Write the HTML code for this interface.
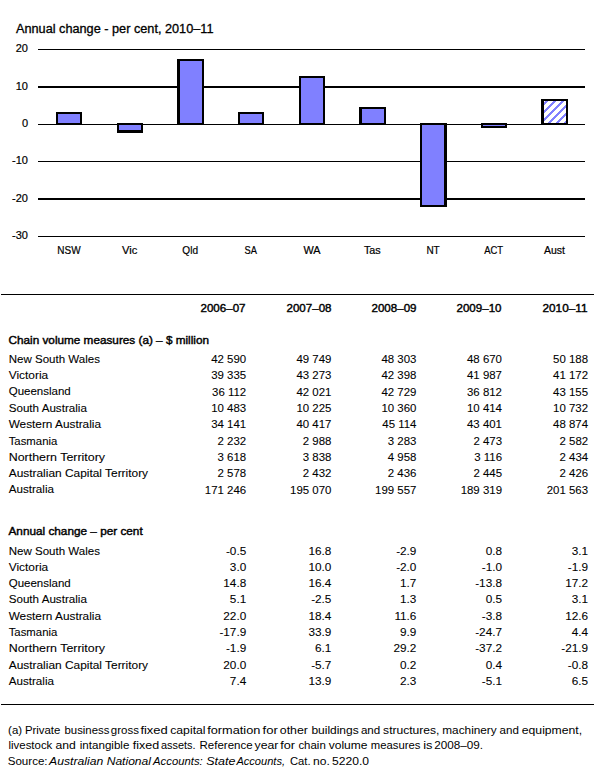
<!DOCTYPE html>
<html><head><meta charset="utf-8"><title>Annual change</title>
<style>html,body{margin:0;padding:0;background:#fff;width:595px;height:768px;overflow:hidden}
text{font-family:"Liberation Sans", sans-serif}</style></head>
<body>
<svg width="595" height="768" viewBox="0 0 595 768" style='display:block;font-family:"Liberation Sans", sans-serif'>
<defs>
<pattern id="hatch" patternUnits="userSpaceOnUse" x="0" y="0" width="8" height="8"><rect width="8" height="8" fill="#fff"/><rect x="0" y="0" width="1" height="1" fill="#8080ff"/><rect x="6" y="0" width="1" height="1" fill="#8080ff"/><rect x="7" y="0" width="1" height="1" fill="#8080ff"/><rect x="5" y="1" width="1" height="1" fill="#8080ff"/><rect x="6" y="1" width="1" height="1" fill="#8080ff"/><rect x="7" y="1" width="1" height="1" fill="#8080ff"/><rect x="4" y="2" width="1" height="1" fill="#8080ff"/><rect x="5" y="2" width="1" height="1" fill="#8080ff"/><rect x="6" y="2" width="1" height="1" fill="#8080ff"/><rect x="3" y="3" width="1" height="1" fill="#8080ff"/><rect x="4" y="3" width="1" height="1" fill="#8080ff"/><rect x="5" y="3" width="1" height="1" fill="#8080ff"/><rect x="2" y="4" width="1" height="1" fill="#8080ff"/><rect x="3" y="4" width="1" height="1" fill="#8080ff"/><rect x="4" y="4" width="1" height="1" fill="#8080ff"/><rect x="1" y="5" width="1" height="1" fill="#8080ff"/><rect x="2" y="5" width="1" height="1" fill="#8080ff"/><rect x="3" y="5" width="1" height="1" fill="#8080ff"/><rect x="0" y="6" width="1" height="1" fill="#8080ff"/><rect x="1" y="6" width="1" height="1" fill="#8080ff"/><rect x="2" y="6" width="1" height="1" fill="#8080ff"/><rect x="0" y="7" width="1" height="1" fill="#8080ff"/><rect x="1" y="7" width="1" height="1" fill="#8080ff"/><rect x="7" y="7" width="1" height="1" fill="#8080ff"/></pattern>
</defs>
<rect width="595" height="768" fill="#fff"/>
<text x="16" y="33" font-size="12.3" textLength="197.5" lengthAdjust="spacingAndGlyphs" stroke="#000" stroke-width="0.3">Annual change - per cent, 2010–11</text>
<rect x="38" y="49" width="547" height="1" fill="#000"/>
<text x="28" y="52.2" font-size="11" text-anchor="end" stroke="#000" stroke-width="0.2">20</text>
<rect x="38" y="86" width="547" height="2" fill="#000"/>
<text x="28" y="89.7" font-size="11" text-anchor="end" stroke="#000" stroke-width="0.2">10</text>
<rect x="38" y="124" width="547" height="1" fill="#000"/>
<text x="28" y="127.2" font-size="11" text-anchor="end" stroke="#000" stroke-width="0.2">0</text>
<rect x="38" y="161" width="547" height="1" fill="#000"/>
<text x="28" y="164.2" font-size="11" text-anchor="end" stroke="#000" stroke-width="0.2">-10</text>
<rect x="38" y="198" width="547" height="2" fill="#000"/>
<text x="28" y="201.7" font-size="11" text-anchor="end" stroke="#000" stroke-width="0.2">-20</text>
<rect x="38" y="236" width="547" height="1" fill="#000"/>
<text x="28" y="239.2" font-size="11" text-anchor="end" stroke="#000" stroke-width="0.2">-30</text>
<rect x="56" y="112" width="26" height="13" fill="#000"/>
<rect x="58" y="114" width="22" height="9" fill="#8080ff"/>
<text x="68.95" y="254" font-size="10.6" text-anchor="middle" textLength="23.3" lengthAdjust="spacingAndGlyphs" stroke="#000" stroke-width="0.2">NSW</text>
<rect x="117" y="123" width="26" height="10" fill="#000"/>
<rect x="119" y="125" width="22" height="5" fill="#8080ff"/>
<text x="129.65" y="254" font-size="10.6" text-anchor="middle" textLength="15.3" lengthAdjust="spacingAndGlyphs" stroke="#000" stroke-width="0.2">Vic</text>
<rect x="177" y="59" width="27" height="66" fill="#000"/>
<rect x="180" y="61" width="22" height="62" fill="#8080ff"/>
<text x="190.15" y="254" font-size="10.6" text-anchor="middle" textLength="15.7" lengthAdjust="spacingAndGlyphs" stroke="#000" stroke-width="0.2">Qld</text>
<rect x="238" y="112" width="26" height="13" fill="#000"/>
<rect x="240" y="114" width="22" height="9" fill="#8080ff"/>
<text x="250.7" y="254" font-size="10.6" text-anchor="middle" textLength="12.4" lengthAdjust="spacingAndGlyphs" stroke="#000" stroke-width="0.2">SA</text>
<rect x="299" y="76" width="26" height="49" fill="#000"/>
<rect x="301" y="78" width="22" height="45" fill="#8080ff"/>
<text x="311.95" y="254" font-size="10.6" text-anchor="middle" textLength="17.1" lengthAdjust="spacingAndGlyphs" stroke="#000" stroke-width="0.2">WA</text>
<rect x="359" y="107" width="27" height="18" fill="#000"/>
<rect x="362" y="109" width="22" height="14" fill="#8080ff"/>
<text x="372.3" y="254" font-size="10.6" text-anchor="middle" textLength="16.8" lengthAdjust="spacingAndGlyphs" stroke="#000" stroke-width="0.2">Tas</text>
<rect x="420" y="123" width="27" height="84" fill="#000"/>
<rect x="422" y="125" width="22" height="80" fill="#8080ff"/>
<text x="433.05" y="254" font-size="10.6" text-anchor="middle" textLength="13.3" lengthAdjust="spacingAndGlyphs" stroke="#000" stroke-width="0.2">NT</text>
<rect x="481" y="123" width="26" height="5" fill="#000"/>
<rect x="483" y="125" width="22" height="1" fill="#8080ff"/>
<text x="493.65" y="254" font-size="10.6" text-anchor="middle" textLength="18.9" lengthAdjust="spacingAndGlyphs" stroke="#000" stroke-width="0.2">ACT</text>
<rect x="541" y="99" width="27" height="26" fill="#000"/>
<rect x="544" y="101" width="22" height="22" fill="url(#hatch)"/>
<text x="554.4" y="254" font-size="10.6" text-anchor="middle" textLength="21.0" lengthAdjust="spacingAndGlyphs" stroke="#000" stroke-width="0.2">Aust</text>
<rect x="1" y="294" width="593" height="1" fill="#000"/>
<rect x="1" y="704" width="593" height="1" fill="#000"/>
<text x="245.5" y="311.6" font-size="11" text-anchor="end" textLength="45" lengthAdjust="spacingAndGlyphs" stroke="#000" stroke-width="0.4">2006–07</text>
<text x="331.5" y="311.6" font-size="11" text-anchor="end" textLength="45" lengthAdjust="spacingAndGlyphs" stroke="#000" stroke-width="0.4">2007–08</text>
<text x="416.5" y="311.6" font-size="11" text-anchor="end" textLength="45" lengthAdjust="spacingAndGlyphs" stroke="#000" stroke-width="0.4">2008–09</text>
<text x="501.5" y="311.6" font-size="11" text-anchor="end" textLength="45" lengthAdjust="spacingAndGlyphs" stroke="#000" stroke-width="0.4">2009–10</text>
<text x="587.5" y="311.6" font-size="11" text-anchor="end" textLength="45" lengthAdjust="spacingAndGlyphs" stroke="#000" stroke-width="0.4">2010–11</text>
<text x="8.5" y="343.7" font-size="10.6" textLength="200.5" lengthAdjust="spacingAndGlyphs" stroke="#000" stroke-width="0.4">Chain volume measures (a) – $ million</text>
<text x="8.5" y="534.5" font-size="10.6" textLength="134.2" lengthAdjust="spacingAndGlyphs" stroke="#000" stroke-width="0.4">Annual change – per cent</text>
<text x="8.7" y="363" font-size="10.4" textLength="91.3" lengthAdjust="spacingAndGlyphs" stroke="#000" stroke-width="0.08">New South Wales</text>
<g transform="translate(246.2,363.3) scale(1.04,1)">
<text x="0" y="0" font-size="11" text-anchor="end" stroke="#000" stroke-width="0.08">42 590</text>
</g>
<g transform="translate(331.4,363.3) scale(1.04,1)">
<text x="0" y="0" font-size="11" text-anchor="end" stroke="#000" stroke-width="0.08">49 749</text>
</g>
<g transform="translate(416.4,363.3) scale(1.04,1)">
<text x="0" y="0" font-size="11" text-anchor="end" stroke="#000" stroke-width="0.08">48 303</text>
</g>
<g transform="translate(502.0,363.3) scale(1.04,1)">
<text x="0" y="0" font-size="11" text-anchor="end" stroke="#000" stroke-width="0.08">48 670</text>
</g>
<g transform="translate(588.1,363.3) scale(1.04,1)">
<text x="0" y="0" font-size="11" text-anchor="end" stroke="#000" stroke-width="0.08">50 188</text>
</g>
<text x="8.7" y="378.6" font-size="10.4" textLength="39.5" lengthAdjust="spacingAndGlyphs" stroke="#000" stroke-width="0.08">Victoria</text>
<g transform="translate(246.2,378.90000000000003) scale(1.04,1)">
<text x="0" y="0" font-size="11" text-anchor="end" stroke="#000" stroke-width="0.08">39 335</text>
</g>
<g transform="translate(331.4,378.90000000000003) scale(1.04,1)">
<text x="0" y="0" font-size="11" text-anchor="end" stroke="#000" stroke-width="0.08">43 273</text>
</g>
<g transform="translate(416.4,378.90000000000003) scale(1.04,1)">
<text x="0" y="0" font-size="11" text-anchor="end" stroke="#000" stroke-width="0.08">42 398</text>
</g>
<g transform="translate(502.0,378.90000000000003) scale(1.04,1)">
<text x="0" y="0" font-size="11" text-anchor="end" stroke="#000" stroke-width="0.08">41 987</text>
</g>
<g transform="translate(588.1,378.90000000000003) scale(1.04,1)">
<text x="0" y="0" font-size="11" text-anchor="end" stroke="#000" stroke-width="0.08">41 172</text>
</g>
<text x="8.7" y="395.2" font-size="10.4" textLength="62.1" lengthAdjust="spacingAndGlyphs" stroke="#000" stroke-width="0.08">Queensland</text>
<g transform="translate(246.2,395.5) scale(1.04,1)">
<text x="0" y="0" font-size="11" text-anchor="end" stroke="#000" stroke-width="0.08">36 112</text>
</g>
<g transform="translate(331.4,395.5) scale(1.04,1)">
<text x="0" y="0" font-size="11" text-anchor="end" stroke="#000" stroke-width="0.08">42 021</text>
</g>
<g transform="translate(416.4,395.5) scale(1.04,1)">
<text x="0" y="0" font-size="11" text-anchor="end" stroke="#000" stroke-width="0.08">42 729</text>
</g>
<g transform="translate(502.0,395.5) scale(1.04,1)">
<text x="0" y="0" font-size="11" text-anchor="end" stroke="#000" stroke-width="0.08">36 812</text>
</g>
<g transform="translate(588.1,395.5) scale(1.04,1)">
<text x="0" y="0" font-size="11" text-anchor="end" stroke="#000" stroke-width="0.08">43 155</text>
</g>
<text x="8.7" y="411.8" font-size="10.4" textLength="78.2" lengthAdjust="spacingAndGlyphs" stroke="#000" stroke-width="0.08">South Australia</text>
<g transform="translate(246.2,412.1) scale(1.04,1)">
<text x="0" y="0" font-size="11" text-anchor="end" stroke="#000" stroke-width="0.08">10 483</text>
</g>
<g transform="translate(331.4,412.1) scale(1.04,1)">
<text x="0" y="0" font-size="11" text-anchor="end" stroke="#000" stroke-width="0.08">10 225</text>
</g>
<g transform="translate(416.4,412.1) scale(1.04,1)">
<text x="0" y="0" font-size="11" text-anchor="end" stroke="#000" stroke-width="0.08">10 360</text>
</g>
<g transform="translate(502.0,412.1) scale(1.04,1)">
<text x="0" y="0" font-size="11" text-anchor="end" stroke="#000" stroke-width="0.08">10 414</text>
</g>
<g transform="translate(588.1,412.1) scale(1.04,1)">
<text x="0" y="0" font-size="11" text-anchor="end" stroke="#000" stroke-width="0.08">10 732</text>
</g>
<text x="8.7" y="427.8" font-size="10.4" textLength="92.3" lengthAdjust="spacingAndGlyphs" stroke="#000" stroke-width="0.08">Western Australia</text>
<g transform="translate(246.2,428.1) scale(1.04,1)">
<text x="0" y="0" font-size="11" text-anchor="end" stroke="#000" stroke-width="0.08">34 141</text>
</g>
<g transform="translate(331.4,428.1) scale(1.04,1)">
<text x="0" y="0" font-size="11" text-anchor="end" stroke="#000" stroke-width="0.08">40 417</text>
</g>
<g transform="translate(416.4,428.1) scale(1.04,1)">
<text x="0" y="0" font-size="11" text-anchor="end" stroke="#000" stroke-width="0.08">45 114</text>
</g>
<g transform="translate(502.0,428.1) scale(1.04,1)">
<text x="0" y="0" font-size="11" text-anchor="end" stroke="#000" stroke-width="0.08">43 401</text>
</g>
<g transform="translate(588.1,428.1) scale(1.04,1)">
<text x="0" y="0" font-size="11" text-anchor="end" stroke="#000" stroke-width="0.08">48 874</text>
</g>
<text x="8.7" y="444.5" font-size="10.4" textLength="48.6" lengthAdjust="spacingAndGlyphs" stroke="#000" stroke-width="0.08">Tasmania</text>
<g transform="translate(246.2,444.8) scale(1.04,1)">
<text x="0" y="0" font-size="11" text-anchor="end" stroke="#000" stroke-width="0.08">2 232</text>
</g>
<g transform="translate(331.4,444.8) scale(1.04,1)">
<text x="0" y="0" font-size="11" text-anchor="end" stroke="#000" stroke-width="0.08">2 988</text>
</g>
<g transform="translate(416.4,444.8) scale(1.04,1)">
<text x="0" y="0" font-size="11" text-anchor="end" stroke="#000" stroke-width="0.08">3 283</text>
</g>
<g transform="translate(502.0,444.8) scale(1.04,1)">
<text x="0" y="0" font-size="11" text-anchor="end" stroke="#000" stroke-width="0.08">2 473</text>
</g>
<g transform="translate(588.1,444.8) scale(1.04,1)">
<text x="0" y="0" font-size="11" text-anchor="end" stroke="#000" stroke-width="0.08">2 582</text>
</g>
<text x="8.7" y="460.6" font-size="10.4" textLength="96.4" lengthAdjust="spacingAndGlyphs" stroke="#000" stroke-width="0.08">Northern Territory</text>
<g transform="translate(246.2,460.90000000000003) scale(1.04,1)">
<text x="0" y="0" font-size="11" text-anchor="end" stroke="#000" stroke-width="0.08">3 618</text>
</g>
<g transform="translate(331.4,460.90000000000003) scale(1.04,1)">
<text x="0" y="0" font-size="11" text-anchor="end" stroke="#000" stroke-width="0.08">3 838</text>
</g>
<g transform="translate(416.4,460.90000000000003) scale(1.04,1)">
<text x="0" y="0" font-size="11" text-anchor="end" stroke="#000" stroke-width="0.08">4 958</text>
</g>
<g transform="translate(502.0,460.90000000000003) scale(1.04,1)">
<text x="0" y="0" font-size="11" text-anchor="end" stroke="#000" stroke-width="0.08">3 116</text>
</g>
<g transform="translate(588.1,460.90000000000003) scale(1.04,1)">
<text x="0" y="0" font-size="11" text-anchor="end" stroke="#000" stroke-width="0.08">2 434</text>
</g>
<text x="8.7" y="476.8" font-size="10.4" textLength="139.4" lengthAdjust="spacingAndGlyphs" stroke="#000" stroke-width="0.08">Australian Capital Territory</text>
<g transform="translate(246.2,477.1) scale(1.04,1)">
<text x="0" y="0" font-size="11" text-anchor="end" stroke="#000" stroke-width="0.08">2 578</text>
</g>
<g transform="translate(331.4,477.1) scale(1.04,1)">
<text x="0" y="0" font-size="11" text-anchor="end" stroke="#000" stroke-width="0.08">2 432</text>
</g>
<g transform="translate(416.4,477.1) scale(1.04,1)">
<text x="0" y="0" font-size="11" text-anchor="end" stroke="#000" stroke-width="0.08">2 436</text>
</g>
<g transform="translate(502.0,477.1) scale(1.04,1)">
<text x="0" y="0" font-size="11" text-anchor="end" stroke="#000" stroke-width="0.08">2 445</text>
</g>
<g transform="translate(588.1,477.1) scale(1.04,1)">
<text x="0" y="0" font-size="11" text-anchor="end" stroke="#000" stroke-width="0.08">2 426</text>
</g>
<text x="8.7" y="493.4" font-size="10.4" textLength="45.3" lengthAdjust="spacingAndGlyphs" stroke="#000" stroke-width="0.08">Australia</text>
<g transform="translate(246.2,493.7) scale(1.04,1)">
<text x="0" y="0" font-size="11" text-anchor="end" stroke="#000" stroke-width="0.08">171 246</text>
</g>
<g transform="translate(331.4,493.7) scale(1.04,1)">
<text x="0" y="0" font-size="11" text-anchor="end" stroke="#000" stroke-width="0.08">195 070</text>
</g>
<g transform="translate(416.4,493.7) scale(1.04,1)">
<text x="0" y="0" font-size="11" text-anchor="end" stroke="#000" stroke-width="0.08">199 557</text>
</g>
<g transform="translate(502.0,493.7) scale(1.04,1)">
<text x="0" y="0" font-size="11" text-anchor="end" stroke="#000" stroke-width="0.08">189 319</text>
</g>
<g transform="translate(588.1,493.7) scale(1.04,1)">
<text x="0" y="0" font-size="11" text-anchor="end" stroke="#000" stroke-width="0.08">201 563</text>
</g>
<text x="8.7" y="554.7" font-size="10.4" textLength="91.3" lengthAdjust="spacingAndGlyphs" stroke="#000" stroke-width="0.08">New South Wales</text>
<g transform="translate(246.2,555.0) scale(1.07,1)">
<text x="0" y="0" font-size="11" text-anchor="end" stroke="#000" stroke-width="0.08">-0.5</text>
</g>
<g transform="translate(331.4,555.0) scale(1.07,1)">
<text x="0" y="0" font-size="11" text-anchor="end" stroke="#000" stroke-width="0.08">16.8</text>
</g>
<g transform="translate(416.4,555.0) scale(1.07,1)">
<text x="0" y="0" font-size="11" text-anchor="end" stroke="#000" stroke-width="0.08">-2.9</text>
</g>
<g transform="translate(502.0,555.0) scale(1.07,1)">
<text x="0" y="0" font-size="11" text-anchor="end" stroke="#000" stroke-width="0.08">0.8</text>
</g>
<g transform="translate(588.1,555.0) scale(1.07,1)">
<text x="0" y="0" font-size="11" text-anchor="end" stroke="#000" stroke-width="0.08">3.1</text>
</g>
<text x="8.7" y="570.8" font-size="10.4" textLength="39.5" lengthAdjust="spacingAndGlyphs" stroke="#000" stroke-width="0.08">Victoria</text>
<g transform="translate(246.2,571.0999999999999) scale(1.07,1)">
<text x="0" y="0" font-size="11" text-anchor="end" stroke="#000" stroke-width="0.08">3.0</text>
</g>
<g transform="translate(331.4,571.0999999999999) scale(1.07,1)">
<text x="0" y="0" font-size="11" text-anchor="end" stroke="#000" stroke-width="0.08">10.0</text>
</g>
<g transform="translate(416.4,571.0999999999999) scale(1.07,1)">
<text x="0" y="0" font-size="11" text-anchor="end" stroke="#000" stroke-width="0.08">-2.0</text>
</g>
<g transform="translate(502.0,571.0999999999999) scale(1.07,1)">
<text x="0" y="0" font-size="11" text-anchor="end" stroke="#000" stroke-width="0.08">-1.0</text>
</g>
<g transform="translate(588.1,571.0999999999999) scale(1.07,1)">
<text x="0" y="0" font-size="11" text-anchor="end" stroke="#000" stroke-width="0.08">-1.9</text>
</g>
<text x="8.7" y="586.5" font-size="10.4" textLength="62.1" lengthAdjust="spacingAndGlyphs" stroke="#000" stroke-width="0.08">Queensland</text>
<g transform="translate(246.2,586.8) scale(1.07,1)">
<text x="0" y="0" font-size="11" text-anchor="end" stroke="#000" stroke-width="0.08">14.8</text>
</g>
<g transform="translate(331.4,586.8) scale(1.07,1)">
<text x="0" y="0" font-size="11" text-anchor="end" stroke="#000" stroke-width="0.08">16.4</text>
</g>
<g transform="translate(416.4,586.8) scale(1.07,1)">
<text x="0" y="0" font-size="11" text-anchor="end" stroke="#000" stroke-width="0.08">1.7</text>
</g>
<g transform="translate(502.0,586.8) scale(1.07,1)">
<text x="0" y="0" font-size="11" text-anchor="end" stroke="#000" stroke-width="0.08">-13.8</text>
</g>
<g transform="translate(588.1,586.8) scale(1.07,1)">
<text x="0" y="0" font-size="11" text-anchor="end" stroke="#000" stroke-width="0.08">17.2</text>
</g>
<text x="8.7" y="603" font-size="10.4" textLength="78.2" lengthAdjust="spacingAndGlyphs" stroke="#000" stroke-width="0.08">South Australia</text>
<g transform="translate(246.2,603.3) scale(1.07,1)">
<text x="0" y="0" font-size="11" text-anchor="end" stroke="#000" stroke-width="0.08">5.1</text>
</g>
<g transform="translate(331.4,603.3) scale(1.07,1)">
<text x="0" y="0" font-size="11" text-anchor="end" stroke="#000" stroke-width="0.08">-2.5</text>
</g>
<g transform="translate(416.4,603.3) scale(1.07,1)">
<text x="0" y="0" font-size="11" text-anchor="end" stroke="#000" stroke-width="0.08">1.3</text>
</g>
<g transform="translate(502.0,603.3) scale(1.07,1)">
<text x="0" y="0" font-size="11" text-anchor="end" stroke="#000" stroke-width="0.08">0.5</text>
</g>
<g transform="translate(588.1,603.3) scale(1.07,1)">
<text x="0" y="0" font-size="11" text-anchor="end" stroke="#000" stroke-width="0.08">3.1</text>
</g>
<text x="8.7" y="619.6" font-size="10.4" textLength="92.3" lengthAdjust="spacingAndGlyphs" stroke="#000" stroke-width="0.08">Western Australia</text>
<g transform="translate(246.2,619.9) scale(1.07,1)">
<text x="0" y="0" font-size="11" text-anchor="end" stroke="#000" stroke-width="0.08">22.0</text>
</g>
<g transform="translate(331.4,619.9) scale(1.07,1)">
<text x="0" y="0" font-size="11" text-anchor="end" stroke="#000" stroke-width="0.08">18.4</text>
</g>
<g transform="translate(416.4,619.9) scale(1.07,1)">
<text x="0" y="0" font-size="11" text-anchor="end" stroke="#000" stroke-width="0.08">11.6</text>
</g>
<g transform="translate(502.0,619.9) scale(1.07,1)">
<text x="0" y="0" font-size="11" text-anchor="end" stroke="#000" stroke-width="0.08">-3.8</text>
</g>
<g transform="translate(588.1,619.9) scale(1.07,1)">
<text x="0" y="0" font-size="11" text-anchor="end" stroke="#000" stroke-width="0.08">12.6</text>
</g>
<text x="8.7" y="635.7" font-size="10.4" textLength="48.6" lengthAdjust="spacingAndGlyphs" stroke="#000" stroke-width="0.08">Tasmania</text>
<g transform="translate(246.2,636.0) scale(1.07,1)">
<text x="0" y="0" font-size="11" text-anchor="end" stroke="#000" stroke-width="0.08">-17.9</text>
</g>
<g transform="translate(331.4,636.0) scale(1.07,1)">
<text x="0" y="0" font-size="11" text-anchor="end" stroke="#000" stroke-width="0.08">33.9</text>
</g>
<g transform="translate(416.4,636.0) scale(1.07,1)">
<text x="0" y="0" font-size="11" text-anchor="end" stroke="#000" stroke-width="0.08">9.9</text>
</g>
<g transform="translate(502.0,636.0) scale(1.07,1)">
<text x="0" y="0" font-size="11" text-anchor="end" stroke="#000" stroke-width="0.08">-24.7</text>
</g>
<g transform="translate(588.1,636.0) scale(1.07,1)">
<text x="0" y="0" font-size="11" text-anchor="end" stroke="#000" stroke-width="0.08">4.4</text>
</g>
<text x="8.7" y="651.8" font-size="10.4" textLength="96.4" lengthAdjust="spacingAndGlyphs" stroke="#000" stroke-width="0.08">Northern Territory</text>
<g transform="translate(246.2,652.0999999999999) scale(1.07,1)">
<text x="0" y="0" font-size="11" text-anchor="end" stroke="#000" stroke-width="0.08">-1.9</text>
</g>
<g transform="translate(331.4,652.0999999999999) scale(1.07,1)">
<text x="0" y="0" font-size="11" text-anchor="end" stroke="#000" stroke-width="0.08">6.1</text>
</g>
<g transform="translate(416.4,652.0999999999999) scale(1.07,1)">
<text x="0" y="0" font-size="11" text-anchor="end" stroke="#000" stroke-width="0.08">29.2</text>
</g>
<g transform="translate(502.0,652.0999999999999) scale(1.07,1)">
<text x="0" y="0" font-size="11" text-anchor="end" stroke="#000" stroke-width="0.08">-37.2</text>
</g>
<g transform="translate(588.1,652.0999999999999) scale(1.07,1)">
<text x="0" y="0" font-size="11" text-anchor="end" stroke="#000" stroke-width="0.08">-21.9</text>
</g>
<text x="8.7" y="668.6" font-size="10.4" textLength="139.4" lengthAdjust="spacingAndGlyphs" stroke="#000" stroke-width="0.08">Australian Capital Territory</text>
<g transform="translate(246.2,668.9) scale(1.07,1)">
<text x="0" y="0" font-size="11" text-anchor="end" stroke="#000" stroke-width="0.08">20.0</text>
</g>
<g transform="translate(331.4,668.9) scale(1.07,1)">
<text x="0" y="0" font-size="11" text-anchor="end" stroke="#000" stroke-width="0.08">-5.7</text>
</g>
<g transform="translate(416.4,668.9) scale(1.07,1)">
<text x="0" y="0" font-size="11" text-anchor="end" stroke="#000" stroke-width="0.08">0.2</text>
</g>
<g transform="translate(502.0,668.9) scale(1.07,1)">
<text x="0" y="0" font-size="11" text-anchor="end" stroke="#000" stroke-width="0.08">0.4</text>
</g>
<g transform="translate(588.1,668.9) scale(1.07,1)">
<text x="0" y="0" font-size="11" text-anchor="end" stroke="#000" stroke-width="0.08">-0.8</text>
</g>
<text x="8.7" y="684.6" font-size="10.4" textLength="45.3" lengthAdjust="spacingAndGlyphs" stroke="#000" stroke-width="0.08">Australia</text>
<g transform="translate(246.2,684.9) scale(1.07,1)">
<text x="0" y="0" font-size="11" text-anchor="end" stroke="#000" stroke-width="0.08">7.4</text>
</g>
<g transform="translate(331.4,684.9) scale(1.07,1)">
<text x="0" y="0" font-size="11" text-anchor="end" stroke="#000" stroke-width="0.08">13.9</text>
</g>
<g transform="translate(416.4,684.9) scale(1.07,1)">
<text x="0" y="0" font-size="11" text-anchor="end" stroke="#000" stroke-width="0.08">2.3</text>
</g>
<g transform="translate(502.0,684.9) scale(1.07,1)">
<text x="0" y="0" font-size="11" text-anchor="end" stroke="#000" stroke-width="0.08">-5.1</text>
</g>
<g transform="translate(588.1,684.9) scale(1.07,1)">
<text x="0" y="0" font-size="11" text-anchor="end" stroke="#000" stroke-width="0.08">6.5</text>
</g>
<text x="8.1" y="733.8" font-size="10.4" textLength="14.0" lengthAdjust="spacingAndGlyphs">(a)</text>
<text x="24.9" y="733.8" font-size="10.4" textLength="35.5" lengthAdjust="spacingAndGlyphs">Private</text>
<text x="64.5" y="733.8" font-size="10.4" textLength="44.9" lengthAdjust="spacingAndGlyphs">business</text>
<text x="110.8" y="733.8" font-size="10.4" textLength="28.1" lengthAdjust="spacingAndGlyphs">gross</text>
<text x="140.4" y="733.8" font-size="10.4" textLength="27.4" lengthAdjust="spacingAndGlyphs">fixed</text>
<text x="170.2" y="733.8" font-size="10.4" textLength="35.4" lengthAdjust="spacingAndGlyphs">capital</text>
<text x="207.2" y="733.8" font-size="10.4" textLength="53.2" lengthAdjust="spacingAndGlyphs">formation</text>
<text x="262.6" y="733.8" font-size="10.4" textLength="15.3" lengthAdjust="spacingAndGlyphs">for</text>
<text x="279.8" y="733.8" font-size="10.4" textLength="28.1" lengthAdjust="spacingAndGlyphs">other</text>
<text x="311.4" y="733.8" font-size="10.4" textLength="47.3" lengthAdjust="spacingAndGlyphs">buildings</text>
<text x="360.9" y="733.8" font-size="10.4" textLength="19.4" lengthAdjust="spacingAndGlyphs">and</text>
<text x="383.1" y="733.8" font-size="10.4" textLength="56.4" lengthAdjust="spacingAndGlyphs">structures,</text>
<text x="442.3" y="733.8" font-size="10.4" textLength="54.4" lengthAdjust="spacingAndGlyphs">machinery</text>
<text x="499.6" y="733.8" font-size="10.4" textLength="19.3" lengthAdjust="spacingAndGlyphs">and</text>
<text x="521.8" y="733.8" font-size="10.4" textLength="60.3" lengthAdjust="spacingAndGlyphs">equipment,</text>
<text x="8.5" y="748.9" font-size="10.4" textLength="43.8" lengthAdjust="spacingAndGlyphs">livestock</text>
<text x="55.6" y="748.9" font-size="10.4" textLength="20.3" lengthAdjust="spacingAndGlyphs">and</text>
<text x="79.8" y="748.9" font-size="10.4" textLength="49.6" lengthAdjust="spacingAndGlyphs">intangible</text>
<text x="132.8" y="748.9" font-size="10.4" textLength="26.4" lengthAdjust="spacingAndGlyphs">fixed</text>
<text x="161.0" y="748.9" font-size="10.4" textLength="34.6" lengthAdjust="spacingAndGlyphs">assets.</text>
<text x="199.5" y="748.9" font-size="10.4" textLength="53.1" lengthAdjust="spacingAndGlyphs">Reference</text>
<text x="254.5" y="748.9" font-size="10.4" textLength="23.9" lengthAdjust="spacingAndGlyphs">year</text>
<text x="280.2" y="748.9" font-size="10.4" textLength="14.8" lengthAdjust="spacingAndGlyphs">for</text>
<text x="298.4" y="748.9" font-size="10.4" textLength="27.4" lengthAdjust="spacingAndGlyphs">chain</text>
<text x="328.7" y="748.9" font-size="10.4" textLength="38.8" lengthAdjust="spacingAndGlyphs">volume</text>
<text x="370.8" y="748.9" font-size="10.4" textLength="49.6" lengthAdjust="spacingAndGlyphs">measures</text>
<text x="423.2" y="748.9" font-size="10.4" textLength="9.3" lengthAdjust="spacingAndGlyphs">is</text>
<text x="434.2" y="748.9" font-size="10.4" textLength="48.9" lengthAdjust="spacingAndGlyphs">2008–09.</text>
<text x="7.7" y="765.4" font-size="10.4" textLength="39.9" lengthAdjust="spacingAndGlyphs">Source:</text>
<text x="290.0" y="765.4" font-size="10.4" textLength="20.6" lengthAdjust="spacingAndGlyphs">Cat.</text>
<text x="313.1" y="765.4" font-size="10.4" textLength="16.8" lengthAdjust="spacingAndGlyphs">no.</text>
<text x="332.0" y="765.4" font-size="10.4" textLength="37.1" lengthAdjust="spacingAndGlyphs">5220.0</text>
<text x="49.1" y="765.4" font-size="10.4" font-style="italic" textLength="54.1" lengthAdjust="spacingAndGlyphs">Australian</text>
<text x="106.7" y="765.4" font-size="10.4" font-style="italic" textLength="44.3" lengthAdjust="spacingAndGlyphs">National</text>
<text x="153.1" y="765.4" font-size="10.4" font-style="italic" textLength="49.6" lengthAdjust="spacingAndGlyphs">Accounts:</text>
<text x="206.2" y="765.4" font-size="10.4" font-style="italic" textLength="29.2" lengthAdjust="spacingAndGlyphs">State</text>
<text x="236.4" y="765.4" font-size="10.4" font-style="italic" textLength="48.7" lengthAdjust="spacingAndGlyphs">Accounts,</text>
</svg>
</body></html>
